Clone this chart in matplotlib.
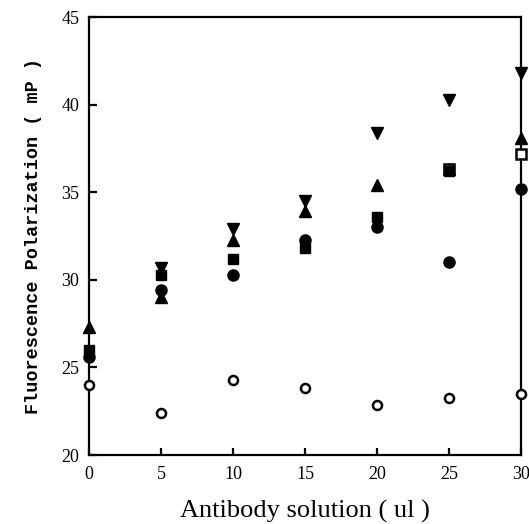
import matplotlib
matplotlib.use("Agg")
import matplotlib.pyplot as plt
import numpy as np

x_vals = [0, 5, 10, 15, 20, 25, 30]

open_circle = [24.0, 22.4, 24.3, 23.8, 22.85, 23.25, 23.5]
filled_circle = [25.6, 29.4, 30.25, 32.3, 33.0, 31.0, 35.2]
tri_up = [27.3, 29.0, 32.3, 33.9, 35.4, 36.3, 38.1]
tri_down = [np.nan, 30.7, 32.9, 34.5, 38.4, 40.25, 41.8]
sq_x = [0, 5, 10, 15, 20, 25]
filled_square = [26.0, 30.3, 31.2, 31.8, 33.6, 36.2]
osq_x = [25, 30]
open_square = [36.3, 37.2]

x_ticks = [0, 5, 10, 15, 20, 25, 30]
y_ticks = [20, 25, 30, 35, 40, 45]

fig = plt.figure(figsize=(5.29, 5.24), dpi=100)
ax = fig.add_axes([89/529, 69/524, 432/529, 438/524])

kw = dict(linestyle="none", clip_on=False)
ax.plot(x_vals, tri_up, marker="^", ms=8, color="black", zorder=5, **kw)
ax.plot(x_vals, tri_down, marker="v", ms=8, color="black", zorder=5, **kw)
ax.plot(x_vals, filled_circle, marker="o", ms=8, color="black", zorder=5, **kw)
ax.plot(osq_x, open_square, marker="s", ms=7.5, mfc="white", mec="black", mew=1.8, zorder=5, **kw)
ax.plot(sq_x, filled_square, marker="s", ms=7.5, color="black", zorder=6, **kw)
ax.plot(x_vals, open_circle, marker="o", ms=6.5, mfc="white", mec="black", mew=1.8, zorder=6, **kw)

ax.set_xlim(0, 30)
ax.set_ylim(20, 45)
ax.set_xticks(x_ticks)
ax.set_yticks(y_ticks)
for s in ax.spines.values():
    s.set_linewidth(1.6)
ax.tick_params(direction="in", length=6, width=1.6, labelsize=13, pad=7)
ax.tick_params(axis="x", length=5, pad=8)
for lab in ax.get_xticklabels() + ax.get_yticklabels():
    lab.set_fontfamily("Liberation Serif")

ax.set_xlabel("Antibody solution ( ul )", fontfamily="Liberation Serif", fontsize=19, labelpad=12)
ax.set_ylabel("Fluorescence Polarization ( mP )", fontfamily="Liberation Mono",
              fontweight="bold", fontsize=13.3, labelpad=14)

fig.savefig("out.png", dpi=100)
